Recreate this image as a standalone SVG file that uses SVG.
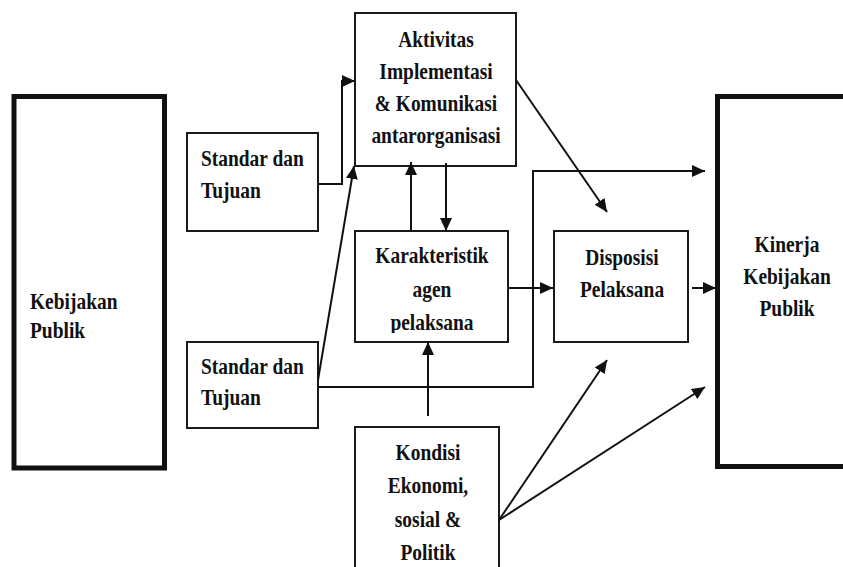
<svg xmlns="http://www.w3.org/2000/svg" width="843" height="567" viewBox="0 0 843 567">
  <defs>
    <marker id="ah" markerUnits="userSpaceOnUse" markerWidth="14" markerHeight="12" refX="13" refY="6" orient="auto">
      <path d="M0,0 L13,6 L0,12 z" fill="#111"/>
    </marker>
    <clipPath id="kclip"><rect x="355" y="231" width="153" height="102"/></clipPath>
  </defs>
  <style>
    .box { fill: #fff; stroke: #1a1a1a; stroke-width: 2; }
    .thick { fill: #fff; stroke: #111; stroke-width: 5; }
    .lbl { font-family: 'Liberation Serif', 'Times New Roman', serif; font-weight: 700; font-size: 24px; fill: #111; }
    .mid { text-anchor: middle; }
    .conn { fill: none; stroke: #111; stroke-width: 2; }
  </style>
  <rect width="843" height="567" fill="#fff"/>

  <g id="kebijakan-publik">
    <rect class="thick" x="14" y="96.5" width="150.5" height="371.5"/>
    <text class="lbl" transform="translate(30,0) scale(0.81,1)"><tspan x="0" y="309">Kebijakan</tspan><tspan x="0" y="338">Publik</tspan></text>
  </g>

  <g id="standar-1">
    <rect class="box" x="187" y="133" width="131" height="98"/>
    <text class="lbl" transform="translate(201,0) scale(0.81,1)"><tspan x="0" y="166">Standar dan</tspan><tspan x="0" y="198">Tujuan</tspan></text>
  </g>

  <g id="standar-2">
    <rect class="box" x="187" y="342" width="131" height="86"/>
    <text class="lbl" transform="translate(201,0) scale(0.81,1)"><tspan x="0" y="374">Standar dan</tspan><tspan x="0" y="405">Tujuan</tspan></text>
  </g>

  <g id="aktivitas">
    <rect class="box" x="355" y="13" width="161" height="153"/>
    <text class="lbl mid" transform="translate(436,0) scale(0.81,1)"><tspan x="0" y="47">Aktivitas</tspan><tspan x="0" y="79">Implementasi</tspan><tspan x="0" y="111">&amp; Komunikasi</tspan><tspan x="0" y="143">antarorganisasi</tspan></text>
  </g>

  <g id="karakteristik">
    <rect class="box" x="355" y="231" width="153" height="111"/>
    <g clip-path="url(#kclip)">
      <text class="lbl mid" transform="translate(432,0) scale(0.81,1)"><tspan x="0" y="263">Karakteristik</tspan><tspan x="0" y="297">agen</tspan><tspan x="0" y="330">pelaksana</tspan></text>
    </g>
  </g>

  <g id="disposisi">
    <rect class="box" x="554" y="231" width="134" height="111"/>
    <text class="lbl mid" transform="translate(622,0) scale(0.81,1)"><tspan x="0" y="265">Disposisi</tspan><tspan x="0" y="297">Pelaksana</tspan></text>
  </g>

  <g id="kondisi">
    <rect class="box" x="355" y="427" width="144" height="160"/>
    <text class="lbl mid" transform="translate(428,0) scale(0.81,1)"><tspan x="0" y="460">Kondisi</tspan><tspan x="0" y="493">Ekonomi,</tspan><tspan x="0" y="527">sosial &amp;</tspan><tspan x="0" y="560">Politik</tspan></text>
  </g>

  <g id="kinerja">
    <rect class="thick" x="717.5" y="96.5" width="150" height="370"/>
    <text class="lbl mid" transform="translate(787,0) scale(0.81,1)"><tspan x="0" y="252">Kinerja</tspan><tspan x="0" y="284">Kebijakan</tspan><tspan x="0" y="316">Publik</tspan></text>
  </g>

  <g id="connectors">
    <polyline class="conn" points="318,184 342,184 342,81 355,81" marker-end="url(#ah)"/>
    <line class="conn" x1="318" y1="380" x2="354" y2="166" marker-end="url(#ah)"/>
    <polyline class="conn" points="318,387 533,387 533,171 705,171" marker-end="url(#ah)"/>
    <line class="conn" x1="411" y1="231" x2="411" y2="162" marker-end="url(#ah)"/>
    <line class="conn" x1="446" y1="163" x2="446" y2="231" marker-end="url(#ah)"/>
    <line class="conn" x1="516" y1="80" x2="607" y2="212" marker-end="url(#ah)"/>
    <line class="conn" x1="508" y1="288" x2="553" y2="288" marker-end="url(#ah)"/>
    <line class="conn" x1="692" y1="288" x2="716" y2="288" marker-end="url(#ah)"/>
    <line class="conn" x1="428" y1="416" x2="428" y2="342" marker-end="url(#ah)"/>
    <line class="conn" x1="499" y1="520" x2="607" y2="360" marker-end="url(#ah)"/>
    <line class="conn" x1="499" y1="520" x2="705" y2="387" marker-end="url(#ah)"/>
  </g>
</svg>
